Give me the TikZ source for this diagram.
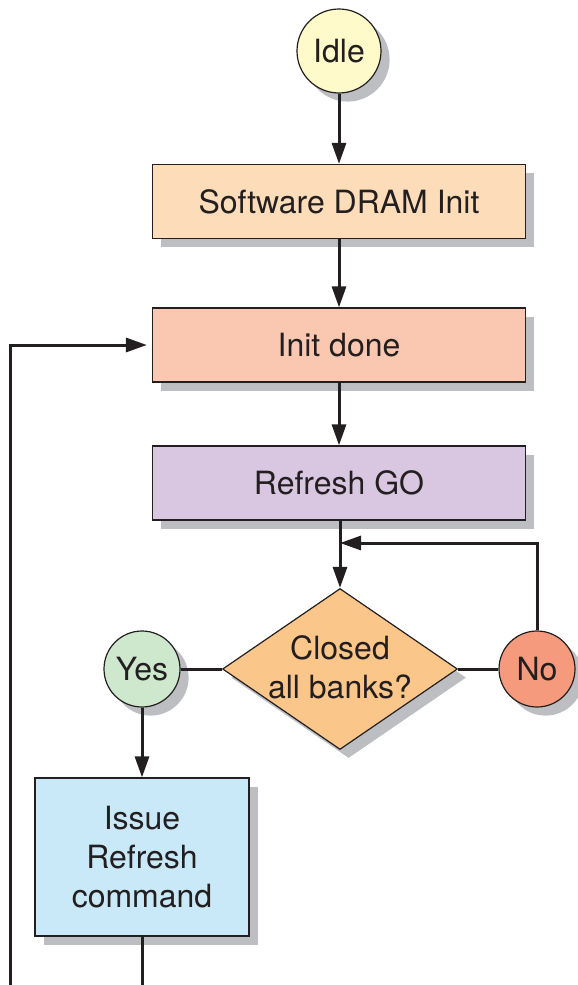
\documentclass[tikz,border=0pt]{standalone}
\usepackage{fontspec}
\setmainfont{TeX Gyre Heros}
\usetikzlibrary{shapes.geometric,arrows.meta,shadows}
\definecolor{ink}{HTML}{231F20}
\definecolor{shadowgray}{HTML}{BDBEC2}
\definecolor{idlefill}{HTML}{FFFAC9}
\definecolor{swfill}{HTML}{FDDDB9}
\definecolor{donefill}{HTML}{FAC8B1}
\definecolor{gofill}{HTML}{D9C6E1}
\definecolor{diafill}{HTML}{FBC68A}
\definecolor{yesfill}{HTML}{CDE8CD}
\definecolor{nofill}{HTML}{F59A7C}
\definecolor{issuefill}{HTML}{C9E9F9}
\tikzset{
  shade3d/.style={general shadow={fill=shadowgray, shadow xshift=4.3pt, shadow yshift=-4.3pt}},
  basebox/.style={draw=ink, line width=0.6pt, shade3d, inner sep=0pt, text=ink,
    font=\fontsize{16}{19.3}\selectfont, align=center},
  widebox/.style={basebox, rectangle, minimum width=186.5pt, minimum height=37pt},
  statecirc/.style={basebox, circle, minimum size=38pt},
  decision/.style={basebox, diamond, minimum width=117.5pt, minimum height=80.5pt},
  conn/.style={draw=ink, line width=1.5pt},
  arr/.style={conn, -{Triangle[length=10.5pt,width=7pt]}},
}
\begin{document}
\begin{tikzpicture}[x=0.5pt,y=-0.5pt]
\useasboundingbox (0,0) rectangle (578,985);
\node[statecirc, fill=idlefill, minimum size=42pt] (idle) at (339,51) {Idle};
\node[widebox, fill=swfill] (sw) at (339,201.5) {Software DRAM Init};
\node[widebox, fill=donefill] (done) at (339,345) {Init done};
\node[widebox, fill=gofill] (go) at (339,483) {Refresh GO};
\node[decision, fill=diafill] (dia) at (340,669) {};
\node[text=ink, font=\fontsize{16}{19.5}\selectfont, align=center, inner sep=0pt] (diatext) at (340,667) {Closed\\all banks?};
\node[statecirc, fill=yesfill] (yes) at (142,669) {Yes};
\node[statecirc, fill=nofill] (no) at (537,669) {No};
\node[basebox, rectangle, fill=issuefill, minimum width=107pt, minimum height=79pt] (issue) at (142,857) {Issue\\Refresh\\command};
\coordinate (merge) at (340,543);
\coordinate (issueout) at (142,985);
\coordinate (loopin) at (10,985);

\draw[arr] (idle.south) -- (sw.north);
\draw[arr] (sw.south) -- (done.north);
\draw[arr] (done.south) -- (go.north);
\draw[arr] (go.south -| dia.north) -- (dia.north);
\draw[conn] (yes.east) -- (dia.west);
\draw[conn] (dia.east) -- (no.west);
\draw[arr] (no.north) |- (merge);
\draw[arr] (yes.south) -- (issue.north);
\draw[conn] (issue.south) -- (issueout);
\draw[arr, shorten >=2.5pt] (loopin) |- (done.west);
\end{tikzpicture}
\end{document}
